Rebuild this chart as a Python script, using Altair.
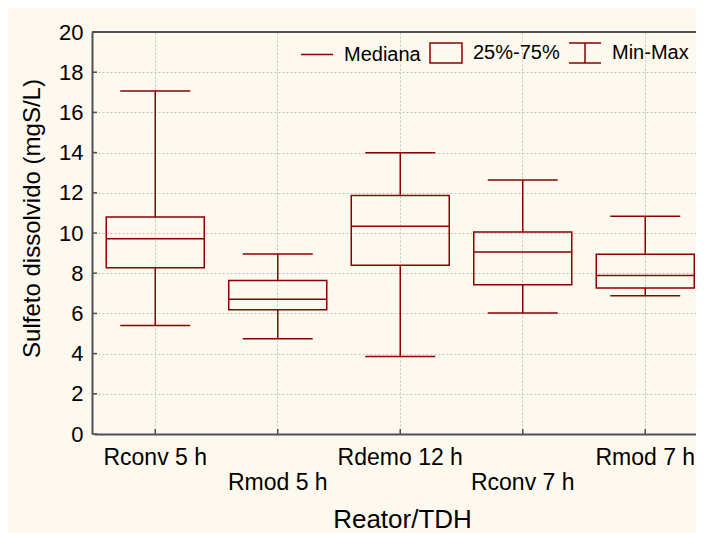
import json
import altair as alt
import pandas as pd

# ---- data ----
categories = ["Rconv 5 h", "Rmod 5 h", "Rdemo 12 h", "Rconv 7 h", "Rmod 7 h"]
mins = [5.40, 4.74, 3.85, 6.02, 6.88]
q1 = [8.27, 6.18, 8.39, 7.43, 7.26]
medians = [9.72, 6.70, 10.34, 9.05, 7.88]
q3 = [10.80, 7.64, 11.86, 10.05, 8.94]
maxs = [17.06, 8.96, 13.99, 12.64, 10.83]
y_ticks = [0, 2, 4, 6, 8, 10, 12, 14, 16, 18, 20]
legend_items = ["Mediana", "25%-75%", "Min-Max"]
lower_row = ["Rmod 5 h", "Rconv 7 h"]

df = pd.DataFrame({"cat": categories, "min": mins, "q1": q1,
                   "med": medians, "q3": q3, "max": maxs})
tick_df = pd.DataFrame({"v": y_ticks})
leg_df = pd.DataFrame({"item": legend_items})
one_df = pd.DataFrame({"a": [0]})

W, H = 604, 402
RED = "#8b0000"
BG = "#fdf9ee"
FRAME = "#505050"
FONT = "Liberation Sans"

xscale = alt.Scale(domain=categories, range=[2, 614.5], paddingInner=0, paddingOuter=0)
yscale = alt.Scale(domain=[0, 20], nice=False, zero=True)

label_expr = ("indexof(%s, datum.value) >= 0 ? ['', datum.label] : datum.label"
              % json.dumps(lower_row))

x_axis = alt.Axis(
    labelExpr=label_expr, labelAngle=0, labelBaseline="alphabetic",
    labelPadding=30, labelLineHeight=25, labelFontSize=23, labelColor="black",
    labelOverlap=False, labelFont=FONT,
    tickSize=0, ticks=False, domainColor=FRAME, domainWidth=2,
    grid=True, gridColor="#c4c4c4", gridDash=[2, 2], gridWidth=1, bandPosition=0.5,
    title="Reator/TDH", titleFontSize=26, titleFontWeight="normal", titleColor="black",
    titleFont=FONT, titleY=93, titleX=310, titleBaseline="alphabetic", titleAlign="center",
)
y_axis = alt.Axis(
    values=y_ticks, labelFontSize=22, labelPadding=9, labelColor="black", labelFont=FONT,
    tickSize=0, ticks=False, domainColor=FRAME, domainWidth=2,
    grid=True, gridColor="#c4c4c4", gridDash=[2, 2], gridWidth=1,
    title="Sulfeto dissolvido (mgS/L)", titleFontSize=24, titleFontWeight="normal",
    titleColor="black", titleFont=FONT, titleX=-53, titleY=186,
    titleBaseline="alphabetic", titleAlign="center", titleAngle=270,
)

X = alt.X("cat:N", scale=xscale, sort=categories, axis=x_axis)


def Y(field):
    return alt.Y(field, scale=yscale, axis=y_axis)


base = alt.Chart(df)

whisk_lo = base.mark_rule(color=RED, strokeWidth=1.5).encode(x=X, y=Y("min:Q"), y2="q1:Q")
whisk_hi = base.mark_rule(color=RED, strokeWidth=1.5).encode(x=X, y=Y("q3:Q"), y2="max:Q")
box = base.mark_bar(size=98, fill="white", fillOpacity=0, stroke=RED, strokeWidth=1.5).encode(
    x=X, y=Y("q1:Q"), y2="q3:Q")
med = base.mark_tick(size=98, thickness=1.5, color=RED, opacity=1).encode(x=X, y=Y("med:Q"))
cap_lo = base.mark_tick(size=70, thickness=1.5, color=RED, opacity=1).encode(x=X, y=Y("min:Q"))
cap_hi = base.mark_tick(size=70, thickness=1.5, color=RED, opacity=1).encode(x=X, y=Y("max:Q"))

# inward tick marks
ytk = alt.Chart(tick_df).mark_rule(color=FRAME, strokeWidth=1.5).encode(
    y=Y("v:Q"), x=alt.value(0), x2=alt.value(5))
xtk = base.mark_rule(color=FRAME, strokeWidth=1.5).encode(
    x=X, y=alt.value(H), y2=alt.value(H - 5))
# top frame line
top = alt.Chart(one_df).mark_rule(color=FRAME, strokeWidth=2).encode(
    x=alt.value(0), x2=alt.value(W + 2), y=alt.value(0))

paths = [
    "M-1,0L1,0",
    "M-1,-0.625L1,-0.625L1,0.625L-1,0.625Z",
    "M-1,-0.625L1,-0.625M0,-0.625L0,0.625M-1,0.625L1,0.625",
]
# legend helper: points parked outside the drawing, only their legend is seen
leg = alt.Chart(leg_df).mark_point(
    filled=False, color=RED, strokeWidth=1.5, size=1024, opacity=1
).encode(
    x=alt.value(-500), y=alt.value(-500),
    shape=alt.Shape("item:N", sort=legend_items,
                    scale=alt.Scale(domain=legend_items, range=paths),
                    legend=alt.Legend(
                        title=None, orient="none", legendX=208, legendY=4,
                        direction="horizontal", labelFontSize=20, labelFont=FONT,
                        labelColor="black", labelOffset=10, columnPadding=6,
                        symbolSize=1024, symbolStrokeWidth=1.5, symbolStrokeColor=RED,
                        symbolFillColor="#fff8ec", symbolOpacity=1, padding=0,
                        labelLimit=0))
)

chart = alt.layer(
    whisk_lo, whisk_hi, box, med, cap_lo, cap_hi, ytk, xtk, top, leg
).properties(
    width=W, height=H,
    autosize=alt.AutoSizeParams(type="none"),
    padding={"left": 84, "top": 24, "right": 0, "bottom": 99},
    background=BG,
).configure_view(stroke=None, fill="white").configure(font=FONT)

chart.save("out.html", embed_options={"renderer": "svg", "actions": False})
